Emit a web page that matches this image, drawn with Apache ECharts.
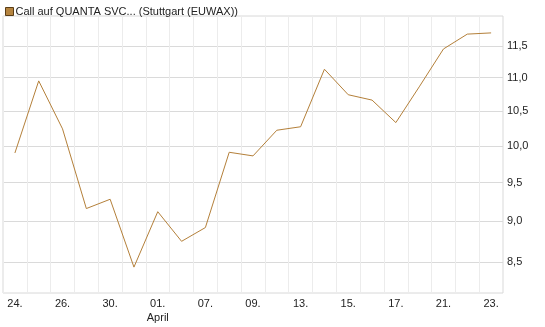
<!DOCTYPE html>
<html>
<head>
<meta charset="utf-8">
<script src="https://cdn.jsdelivr.net/npm/echarts@6/dist/echarts.min.js"></script>
<style>
  html, body { margin: 0; padding: 0; background: #fff; }
  #main { width: 545px; height: 327px; }
</style>
</head>
<body>
<div id="main"></div>
<script>
// trading days, 24.03. - 23.04.
var days = ['24.', '25.', '26.', '27.', '30.', '31.', '01.', '02.', '07.', '08.', '09.',
            '10.', '13.', '14.', '15.', '16.', '17.', '20.', '21.', '22.', '23.'];
var prices = [9.90, 10.95, 10.24, 9.16, 9.28, 8.44, 9.12, 8.75, 8.92, 9.91, 9.86,
              10.22, 10.27, 11.13, 10.74, 10.66, 10.33, 10.87, 11.45, 11.69, 11.71];
var yTicks = [8.5, 9.0, 9.5, 10.0, 10.5, 11.0, 11.5];
var seriesName = 'Call auf QUANTA SVC... (Stuttgart (EUWAX))';

var myChart = echarts.init(document.getElementById('main'));

var option = {
    backgroundColor: '#fff',
    animation: false,
    legend: {
        left: 0,
        top: 1,
        icon: 'rect',
        itemWidth: 8,
        itemHeight: 8,
        itemGap: 5,
        selectedMode: false,
        itemStyle: {
            color: '#b5843f',
            borderColor: '#5a3d17',
            borderWidth: 1
        },
        textStyle: {
            fontFamily: 'Liberation Sans',
            fontSize: 11,
            color: '#222',
            padding: [0, 0, 0, -3]
        },
        data: [seriesName]
    },
    grid: {
        left: 3,
        right: 42,
        top: 16,
        bottom: 34,
        show: true,
        borderColor: '#d8d8d8',
        borderWidth: 1
    },
    xAxis: {
        type: 'category',
        boundaryGap: true,
        data: days,
        axisLine: { show: false },
        axisTick: { show: false },
        splitLine: {
            show: true,
            interval: 0,
            lineStyle: { color: '#ececec' }
        },
        axisLabel: {
            interval: 1,
            margin: 4,
            fontFamily: 'Liberation Sans',
            fontSize: 11,
            color: '#222',
            lineHeight: 14,
            formatter: function (value) {
                // month name under the first day of April
                if (value === '01.') {
                    return value + '\nApril';
                }
                return value;
            }
        }
    },
    yAxis: {
        type: 'log',
        position: 'right',
        min: 8.14,
        max: 11.99,
        axisLine: { show: false },
        axisTick: { show: false, customValues: yTicks },
        splitLine: {
            show: true,
            lineStyle: { color: '#dadada' }
        },
        axisLabel: {
            customValues: yTicks,
            margin: 4,
            fontFamily: 'Liberation Sans',
            fontSize: 11,
            color: '#222',
            formatter: function (v) {
                return v.toFixed(1).replace('.', ',');
            }
        }
    },
    series: [
        {
            name: seriesName,
            type: 'line',
            data: prices,
            symbol: 'none',
            lineStyle: { color: '#b4803a', width: 1 },
            itemStyle: { color: '#b4803a' }
        }
    ]
};
myChart.setOption(option);
</script>
</body>
</html>
